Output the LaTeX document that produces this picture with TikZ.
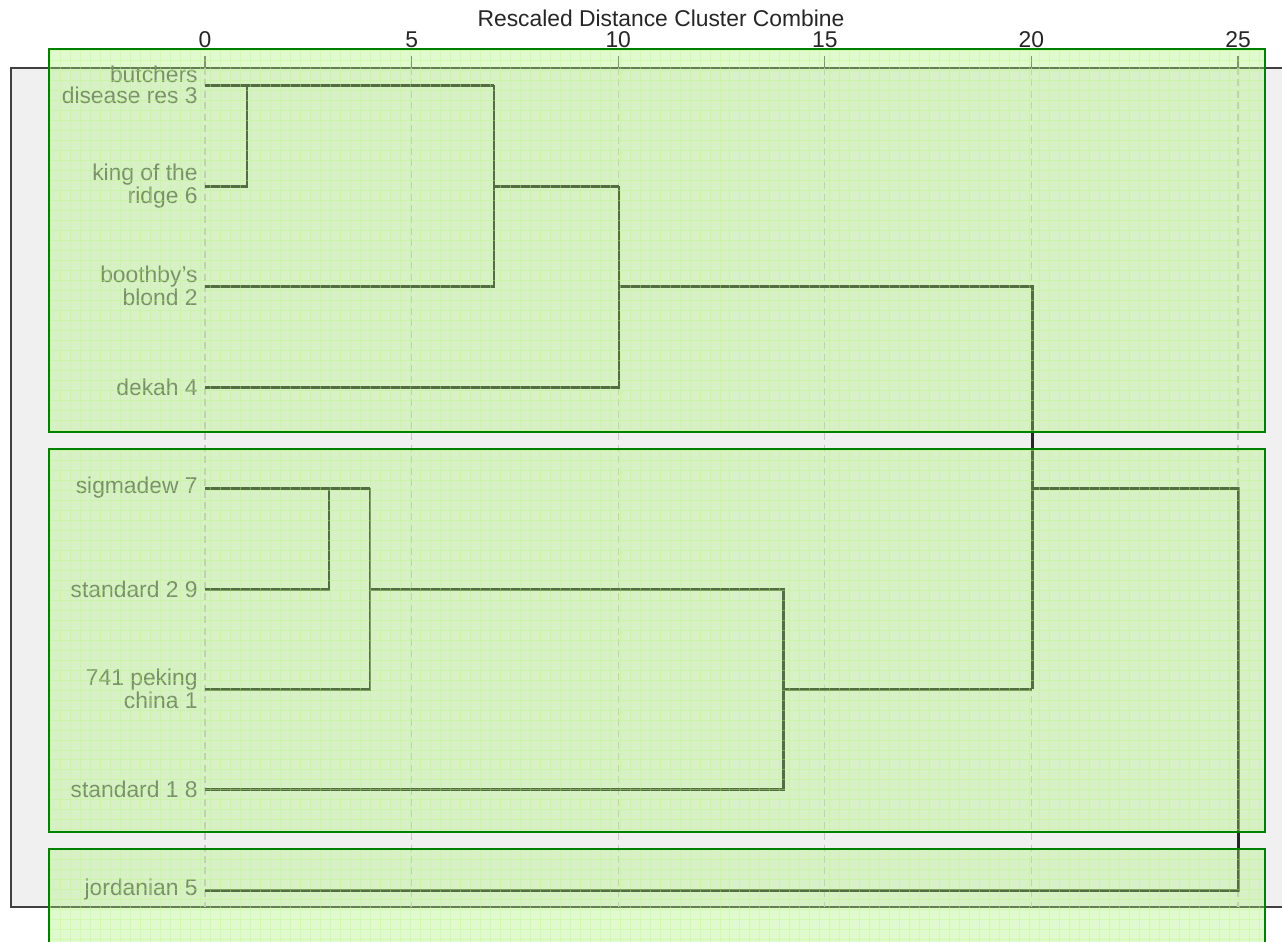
\documentclass[tikz,border=0pt]{standalone}
\usepackage{fontspec}
\setmainfont{Liberation Sans}
\usetikzlibrary{positioning}

\definecolor{panelgrey}{RGB}{240,240,240}
\definecolor{framegrey}{RGB}{64,64,64}
\definecolor{boxgreen}{RGB}{0,128,0}
\definecolor{boxfill}{RGB}{170,240,120}
\definecolor{gridgreen}{RGB}{185,250,130}
\definecolor{labelgrey}{RGB}{95,95,95}

\begin{document}
\begin{tikzpicture}[x=0.02cm, y=-0.02cm,
    leaf/.style={align=right, inner sep=0pt, text=labelgrey, font=\fontsize{13}{12}\selectfont},
    axislabel/.style={inner sep=0pt, text=black!85, font=\fontsize{13}{15}\selectfont},
    link/.style={draw=black!85, line width=1.7pt},
    gridline/.style={draw=black!22, line width=0.6pt, dash pattern=on 4pt off 2.5pt},
    tickmark/.style={draw=black!60, line width=0.6pt},
    panel/.style={fill=panelgrey, draw=framegrey, line width=1.2pt},
    clusterbox/.style={draw=boxgreen, line width=1.2pt}
  ]
  \clip (0,0) rectangle (1282,941);
  \fill[white] (0,0) rectangle (1282,941);

  % Panel and scale
  \draw[panel] (11,68) rectangle (1300,907);
  \node[axislabel] (title) at (661,18) {Rescaled Distance Cluster Combine};
  \foreach \v in {0,5,...,25} {
    \draw[gridline] ({205+41.32*\v},68) -- ({205+41.32*\v},907);
    \draw[tickmark] ({205+41.32*\v},56) -- ({205+41.32*\v},68);
    \node[axislabel] (t\v) at ({205+41.32*\v},40) {\v};
  }

  % Leaf ends of the tree
  \coordinate (butch)  at (205,85);
  \coordinate (king)   at (205,186);
  \coordinate (booth)  at (205,286);
  \coordinate (dekah)  at (205,387);
  \coordinate (sigma)  at (205,488);
  \coordinate (std2)   at (205,589);
  \coordinate (peking) at (205,689);
  \coordinate (std1)   at (205,789);
  \coordinate (jord)   at (205,890);

  % Labels
  \node[leaf, left=0.14cm of butch]  (butchL)  {butchers\\disease res 3};
  \node[leaf, left=0.14cm of king]   (kingL)   {king of the\\ridge 6};
  \node[leaf, left=0.14cm of booth]  (boothL)  {boothby's\\blond 2};
  \node[leaf, left=0.14cm of dekah]  (dekahL)  {dekah 4};
  \node[leaf, left=0.14cm of sigma]  (sigmaL)  {sigmadew 7};
  \node[leaf, left=0.14cm of std2]   (std2L)   {standard 2 9};
  \node[leaf, left=0.14cm of peking] (pekingL) {741 peking\\china 1};
  \node[leaf, left=0.14cm of std1]   (std1L)   {standard 1 8};
  \node[leaf, left=0.14cm of jord]   (jordL)   {jordanian 5};

  % Merge points
  \coordinate (m1)   at (247,85);
  \coordinate (m2)   at (494,85);
  \coordinate (m3)   at (619,186);
  \coordinate (m4)   at (1032,286);
  \coordinate (n1)   at (329,488);
  \coordinate (n2)   at (370,488);
  \coordinate (n3)   at (783,589);
  \coordinate (root) at (1238,890);

  % Links
  \draw[link] (butch) -- (m2);
  \draw[link] (king) -| (m1);
  \draw[link] (booth) -| (m2);
  \draw[link] (m2 |- m3) -- (m3);
  \draw[link] (dekah) -| (m3);
  \draw[link] (m3 |- booth) -- (m4) -- (m4 |- peking);
  \draw[link] (sigma) -- (n2);
  \draw[link] (std2) -| (n1);
  \draw[link] (peking) -| (n2);
  \draw[link] (n2 |- n3) -- (n3) |- (std1);
  \draw[link] (n3 |- peking) -- (m4 |- peking);
  \draw[link] (m4 |- sigma) -| (root) -- (jord);

  % Green selection boxes
  \foreach \top/\bot in {49/432, 449/832, 849/960} {
    \fill[boxfill, fill opacity=0.35] (49,\top) rectangle (1265,\bot);
    \begin{scope}
      \clip (49,\top) rectangle (1265,\bot);
      \draw[gridgreen, opacity=0.4, line width=0.4pt, step=0.2cm] (49,\bot) grid (1265,\top);
    \end{scope}
    \draw[clusterbox] (49,\top) rectangle (1265,\bot);
  }
\end{tikzpicture}
\end{document}
